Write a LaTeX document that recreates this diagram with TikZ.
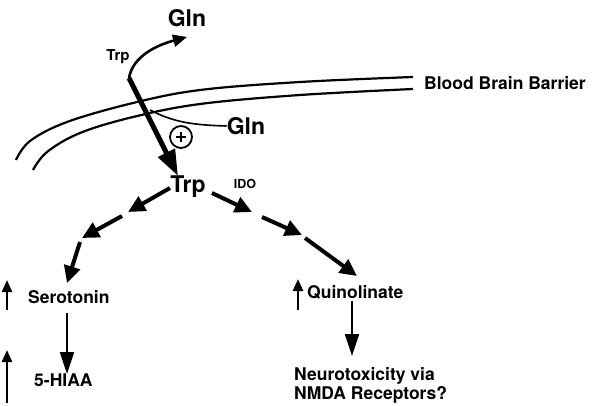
\documentclass[tikz,border=0pt]{standalone}
\usepackage{fontspec}
\setmainfont{TeX Gyre Heros}
\usetikzlibrary{arrows.meta}
\begin{document}
\begin{tikzpicture}[x=1pt,y=-1pt,
  lbl/.style={font=\fontsize{17.5}{19}\selectfont\bfseries, inner sep=0pt},
  big/.style={font=\fontsize{23}{24}\selectfont\bfseries, inner sep=0pt},
  small/.style={font=\fontsize{15}{16}\selectfont\bfseries, inner sep=0pt},
  tiny/.style={font=\fontsize{12.5}{13}\selectfont\bfseries, inner sep=0pt},
  barrier/.style={line width=2.2pt},
  dasharr/.style={line width=4pt, -{Triangle[length=17pt,width=16pt]}},
  thinarr/.style={line width=1.9pt, -{Triangle[length=22pt,width=14pt]}},
  uparr/.style={line width=2.4pt, -{Triangle[length=12pt,width=10pt]}}]
\useasboundingbox (0,0) rectangle (592,405);
% blood brain barrier
\draw[barrier] plot[smooth, tension=0.6] coordinates {(16,160) (30,141) (67,122) (133,103) (200,90) (300,82) (413,77)};
\draw[barrier] plot[smooth, tension=0.6] coordinates {(33,170) (47,152) (80,133) (133,117) (200,104) (300,95) (413,89)};
\node[lbl, anchor=west] (bbb) at (424,83) {Blood Brain Barrier};
% top labels
\node[big] (glnA) at (187,18) {Gln};
\node[small] (trpA) at (118,57) {Trp};
\node[big] (glnB) at (246,126) {Gln};
\node[big] (trp) at (188,187) {Trp};
\node[tiny] (ido) at (245,184) {IDO};
\coordinate (start) at (129,78);
% curved arrow to Gln
\draw[line width=2.6pt, -{Triangle[length=14pt,width=12pt]}] (start) .. controls (132,60) and (150,47) .. (glnA.south |- 0,37);
% gln curve and plus
\draw[line width=1.6pt] (150,110) .. controls (175,123) and (195,125) .. (glnB.west);
\node[draw, circle, line width=1.8pt, minimum size=22pt, inner sep=0pt] (plus) at (181,137) {};
\draw[line width=1.5pt] (176,137) -- (186,137) (181,132) -- (181,142);
% thick transport arrow
\draw[line width=5pt, -{Triangle[length=26pt,width=18pt]}] (start) -- (178,176);
% dashed arrows left
\coordinate (l1) at (128,212); \coordinate (l2) at (122,216);
\coordinate (l3) at (82,238); \coordinate (l4) at (80,242);
\node[lbl, anchor=west] (sero) at (28,297) {Serotonin};
\draw[dasharr] (170,188) -- (l1);
\draw[dasharr] (l2) -- (l3);
\draw[dasharr] (l4) -- (67,283);
% dashed arrows right
\coordinate (r1) at (252,212); \coordinate (r2) at (262,217);
\coordinate (r3) at (302,235); \coordinate (r4) at (305,238);
\node[lbl, anchor=west] (quin) at (307,292) {Quinolinate};
\draw[dasharr] (212,193) -- (r1);
\draw[dasharr] (r2) -- (r3);
\draw[dasharr] (r4) -- (357,276);
% bottom
\node[lbl, anchor=west] (hiaa) at (34,380) {5-HIAA};
\node[lbl, anchor=west, align=left] (neuro) at (294,385) {Neurotoxicity via\\NMDA Receptors?};
\draw[thinarr] (67,313) -- (67,374);
\draw[thinarr] (352,301) -- (352,356);
\draw[uparr] (7,310) -- (7,280);
\draw[uparr] (7,403) -- (7,350);
\draw[uparr] (298,310) -- (298,279);
\end{tikzpicture}
\end{document}
